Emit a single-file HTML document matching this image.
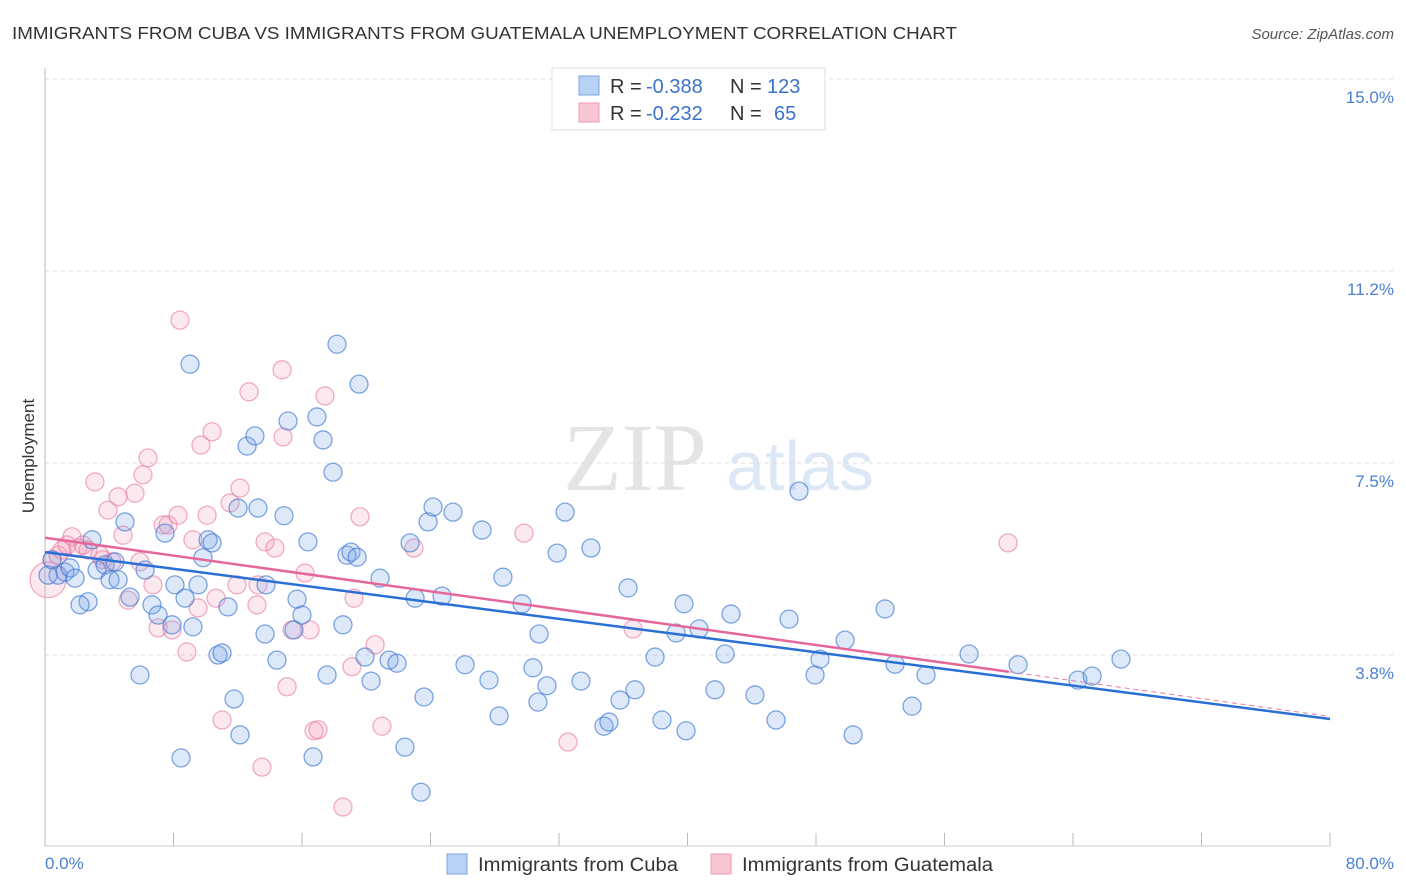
<!DOCTYPE html>
<html><head><meta charset="utf-8"><style>
body{margin:0;background:#fff;font-family:"Liberation Sans",sans-serif}
svg{display:block}
</style></head><body>
<svg id="chart" width="1406" height="892">
<text x="12" y="39" font-size="17.5" fill="#333" textLength="945" lengthAdjust="spacingAndGlyphs">IMMIGRANTS FROM CUBA VS IMMIGRANTS FROM GUATEMALA UNEMPLOYMENT CORRELATION CHART</text>
<text x="1394" y="39" font-size="15" fill="#555" font-style="italic" text-anchor="end">Source: ZipAtlas.com</text>
<text x="635" y="490" font-size="96" fill="#e4e4e4" font-family="Liberation Serif" text-anchor="middle">ZIP</text>
<text x="800" y="490" font-size="70" fill="#dde8f6" text-anchor="middle">atlas</text>
<g id="grid"></g>
<line x1="45" y1="68" x2="45" y2="846" stroke="#bbb"/>
<line x1="45" y1="846" x2="1330" y2="846" stroke="#ccc"/>
<text x="0" y="0" transform="translate(34,456) rotate(-90)" font-size="17" fill="#333" text-anchor="middle">Unemployment</text>
<text x="45" y="869" font-size="17" fill="#4a7fd4">0.0%</text>
<text x="1394" y="869" font-size="17" fill="#4a7fd4" text-anchor="end">80.0%</text>
<g id="points"></g>
<g id="trends"></g>
<g>
<rect x="552" y="68" width="273" height="62" fill="#fff" stroke="#ddd"/>
<rect x="579" y="76" width="20" height="19" fill="#b8d2f4" stroke="#7ba6e0"/>
<rect x="579" y="103" width="20" height="19" fill="#f9c6d4" stroke="#ee9ab4"/>
<text x="610" y="93" font-size="20" fill="#333">R = <tspan x="646" fill="#3b73cc">-0.388</tspan><tspan x="730">N = </tspan><tspan x="767" fill="#3b73cc">123</tspan></text>
<text x="610" y="120" font-size="20" fill="#333">R = <tspan x="646" fill="#3b73cc">-0.232</tspan><tspan x="730">N = </tspan><tspan x="774" fill="#3b73cc">65</tspan></text>
</g>
<g>
<rect x="447" y="854" width="20" height="20" fill="#b8d2f4" stroke="#7ba6e0"/>
<text x="478" y="871" font-size="19" fill="#333" textLength="200" lengthAdjust="spacingAndGlyphs">Immigrants from Cuba</text></g>
<g>
<rect x="711" y="854" width="20" height="20" fill="#f9c6d4" stroke="#ee9ab4"/>
<text x="742" y="871" font-size="19" fill="#333" textLength="251" lengthAdjust="spacingAndGlyphs">Immigrants from Guatemala</text></g>
</svg>
<script>
const yTicks=[15.0,11.25,7.5,3.75];
const yTickLabels=["15.0%","11.2%","7.5%","3.8%"];
const xTicks=[0,8,16,24,32,40,48,56,64,72,80];
const cubaX=[0.44,0.81,1.25,1.56,1.87,2.68,2.93,3.24,3.74,4.05,4.36,4.55,4.98,5.29,5.91,6.23,6.66,7.04,7.47,7.91,8.09,8.47,8.72,9.03,9.21,9.53,9.84,10.15,10.40,10.77,11.02,11.39,11.77,12.02,12.14,12.58,13.07,13.26,13.70,13.76,14.44,14.88,15.13,15.50,15.69,16.00,16.37,16.69,16.93,17.31,17.56,17.93,18.18,18.55,18.80,19.05,19.43,19.55,19.92,20.30,20.86,21.42,21.92,22.41,22.73,23.04,23.41,23.60,23.85,24.16,24.72,25.40,26.15,27.21,27.64,28.27,28.51,29.70,30.38,30.69,30.76,31.25,31.88,32.38,33.37,33.99,34.80,35.11,35.80,36.30,36.73,37.98,38.41,39.29,39.78,39.91,40.72,41.71,42.34,42.71,44.20,45.51,46.32,46.94,47.94,48.25,49.81,50.31,52.30,52.92,53.98,54.85,57.53,60.58,64.31,65.19,66.99,0.19,2.18];
const cubaY=[5.61,5.31,5.37,5.45,5.25,4.79,6.00,5.41,5.51,5.22,5.57,5.22,6.35,4.88,3.36,5.41,4.73,4.53,6.13,4.34,5.12,1.74,4.86,9.43,4.30,5.12,5.65,6.00,5.94,3.75,3.79,4.69,2.89,6.62,2.19,7.83,8.03,6.62,4.16,5.12,3.65,6.47,8.32,4.24,4.84,4.53,5.96,1.76,8.40,7.95,3.36,7.32,9.82,4.34,5.70,5.76,5.66,9.04,3.71,3.24,5.25,3.65,3.59,1.95,5.94,4.86,1.07,2.93,6.35,6.64,4.90,6.54,3.56,6.19,3.26,2.56,5.27,4.75,3.50,2.83,4.16,3.15,5.74,6.54,3.24,5.84,2.36,2.44,2.87,5.06,3.07,3.71,2.48,4.18,4.75,2.27,4.26,3.07,3.77,4.55,2.97,2.48,4.45,6.95,3.36,3.67,4.04,2.19,4.65,3.57,2.75,3.36,3.77,3.56,3.26,3.34,3.67,5.31,4.73];
const guatX=[0.19,0.44,0.81,1.06,1.37,1.68,2.05,2.37,2.68,3.11,3.42,3.61,3.92,4.17,4.55,4.86,5.17,5.60,5.91,6.10,6.41,6.72,7.04,7.35,7.66,7.91,8.28,8.40,8.84,9.21,9.53,9.71,10.09,10.40,10.65,11.02,11.52,11.95,12.14,12.70,13.20,13.26,13.51,13.70,14.32,14.76,14.82,15.07,15.38,16.19,16.50,16.75,17.00,17.43,18.55,19.11,19.24,19.61,20.55,20.98,22.97,29.82,32.56,36.61,59.96];
const guatY=[5.22,5.61,5.70,5.80,5.90,6.06,5.84,5.90,5.80,7.13,5.70,5.61,6.58,5.57,6.84,6.09,4.82,6.91,5.57,7.27,7.60,5.12,4.28,6.29,6.29,4.24,6.48,10.29,3.81,6.00,4.67,7.85,6.48,8.11,4.86,2.48,6.72,5.12,7.01,8.89,4.73,5.12,1.56,5.96,5.84,9.32,8.01,3.13,4.24,5.35,4.24,2.27,2.29,8.81,0.78,3.52,4.86,6.45,3.95,2.36,5.84,6.13,2.05,4.26,5.94];
const cubaTrend=[5.76,2.50];
const guatTrend=[6.04,2.55];
const guatSolidEnd=60;
const NS="http://www.w3.org/2000/svg";
const X=v=>45+v/80*1285;
const Y=v=>79+(15-v)*51.2;
function mk(tag,attrs,parent){const e=document.createElementNS(NS,tag);for(const k in attrs)e.setAttribute(k,attrs[k]);parent.appendChild(e);return e;}
const grid=document.getElementById('grid');
yTicks.forEach((t,i)=>{
 const l=mk('line',{x1:45,x2:1394,y1:Y(t),y2:Y(t),stroke:'#ddd','stroke-dasharray':'4,4'},grid);
 
 
 const tx=mk('text',{x:1394,y:Y(t)+24,'font-size':17,fill:'#4a7fd4','text-anchor':'end'},grid);
 tx.textContent=yTickLabels[i];
 
 
});
xTicks.forEach(t=>{
 const l=mk('line',{x1:X(t),x2:X(t),y1:833,y2:846,stroke:'#bbb'},grid);
 
 
});
const pts=document.getElementById('points');
guatX.forEach((x,i)=>{
 const c=mk('circle',{cx:X(x),cy:Y(guatY[i]),r:i===0?18:9,fill:'rgba(242,150,180,0.22)',stroke:'rgba(232,120,160,0.6)','stroke-width':1.3},pts);
 
 
});
cubaX.forEach((x,i)=>{
 const c=mk('circle',{cx:X(x),cy:Y(cubaY[i]),r:9,fill:'rgba(120,165,230,0.25)',stroke:'rgba(60,120,210,0.65)','stroke-width':1.3},pts);
 
 
});
const tr=document.getElementById('trends');
const gv=x=>guatTrend[0]+(guatTrend[1]-guatTrend[0])*x/80;
const gd=mk('line',{x1:X(guatSolidEnd),y1:Y(gv(guatSolidEnd)),x2:X(80),y2:Y(gv(80)),stroke:'#e87a9f','stroke-width':1,'stroke-dasharray':'5,4'},tr);


const cl=mk('line',{x1:X(0),y1:Y(cubaTrend[0]),x2:X(80),y2:Y(cubaTrend[1]),stroke:'#2a6fd6','stroke-width':2.5},tr);


const gl=mk('line',{x1:X(0),y1:Y(guatTrend[0]),x2:X(guatSolidEnd),y2:Y(gv(guatSolidEnd)),stroke:'#e5679a','stroke-width':2.5},tr);


</script>
</body></html>
